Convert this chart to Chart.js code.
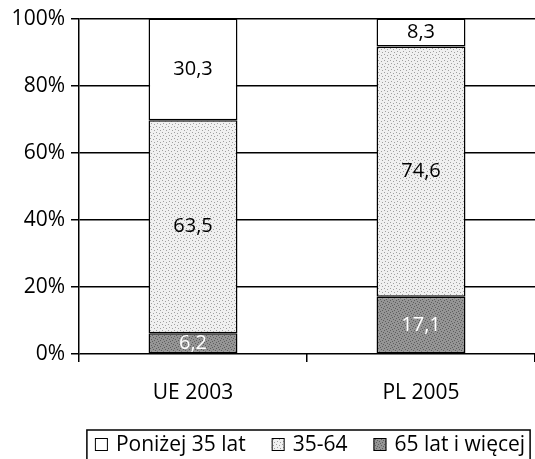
<!DOCTYPE html>
<html>
<head>
<meta charset="utf-8">
<script src="https://cdn.jsdelivr.net/npm/chart.js@4"></script>
<style>
    html, body { margin: 0; padding: 0; background: #fff; }
    #wrap { width: 535px; height: 459px; }
</style>
</head>
<body>
<div id="wrap"><canvas id="chart"></canvas></div>
<script>
const categories = ['UE 2003', 'PL 2005'];
const seriesNames = ['65 lat i więcej', '35-64', 'Poniżej 35 lat'];
const old65 = [6.2, 17.1];
const mid3564 = [63.5, 74.6];
const young35 = [30.3, 8.3];
const yTicks = [0, 20, 40, 60, 80, 100];

// dotted textures like the printed original
function makePattern(bg, dot, step) {
    const c = document.createElement('canvas');
    c.width = 6; c.height = 6;
    const g = c.getContext('2d');
    g.fillStyle = bg;
    g.fillRect(0, 0, 6, 6);
    g.fillStyle = dot;
    const pts = [[0, 0], [3, 1], [1, 3], [4, 4], [5, 2], [2, 5]];
    pts.slice(0, step).forEach(p => g.fillRect(p[0], p[1], 1, 1));
    return g.createPattern(c, 'repeat');
}
const ctx0 = document.getElementById('chart').getContext('2d');
const lightFill = makePattern('#f0f0f0', '#a0a0a0', 4);
const darkFill = makePattern('#959595', '#5e5e5e', 6);

const valueLabels = {
    id: 'valueLabels',
    afterDatasetsDraw(chart) {
        const ctx = chart.ctx;
        ctx.save();
        ctx.font = '20px "Open Sans"';
        ctx.textAlign = 'center';
        ctx.textBaseline = 'middle';
        chart.data.datasets.forEach((ds, i) => {
            chart.getDatasetMeta(i).data.forEach((bar, j) => {
                const y = (bar.y + bar.base) / 2;
                ctx.fillStyle = i === 0 ? '#fff' : '#000';
                ctx.fillText(String(ds.data[j]).replace('.', ','), bar.x, y);
            });
        });
        ctx.restore();
    }
};

// legend in a frame under the chart, items in reverse stacking order
const framedLegend = {
    id: 'framedLegend',
    afterDraw(chart) {
        const ctx = chart.ctx;
        const area = chart.chartArea;
        const boxW = 13, boxGap = 8, itemGap = 26;
        ctx.save();
        ctx.font = '21px "Open Sans"';
        ctx.textBaseline = 'middle';
        const items = chart.data.datasets.slice().reverse();
        const widths = items.map(ds => boxW + boxGap + ctx.measureText(ds.label).width);
        const total = widths.reduce((a, b) => a + b, 0) + itemGap * (items.length - 1);
        let x = (area.left + area.right) / 2 + 3 - total / 2;
        const cy = area.bottom + 91;
        ctx.strokeStyle = '#000';
        ctx.lineWidth = 1.5;
        ctx.strokeRect(x - 8, cy - 15, total + 13, 40);
        items.forEach((ds, i) => {
            ctx.fillStyle = ds.backgroundColor;
            ctx.fillRect(x, cy - 7, boxW, boxW);
            ctx.lineWidth = 1;
            ctx.strokeRect(x + 0.5, cy - 6.5, boxW - 1, boxW - 1);
            ctx.fillStyle = '#000';
            ctx.fillText(ds.label, x + boxW + boxGap, cy);
            x += widths[i] + itemGap;
        });
        ctx.restore();
    }
};

const barStyle = { borderColor: '#000', borderWidth: 1.5, borderSkipped: false, barPercentage: 0.39, categoryPercentage: 1 };

new Chart(ctx0, {
    type: 'bar',
    data: {
        labels: categories,
        datasets: [
            Object.assign({ label: seriesNames[0], data: old65, backgroundColor: darkFill }, barStyle),
            Object.assign({ label: seriesNames[1], data: mid3564, backgroundColor: lightFill }, barStyle),
            Object.assign({ label: seriesNames[2], data: young35, backgroundColor: '#fff' }, barStyle)
        ]
    },
    options: {
        responsive: true,
        maintainAspectRatio: false,
        animation: false,
        layout: { padding: { top: 8, right: 0, bottom: 55, left: 0 } },
        scales: {
            x: {
                stacked: true,
                afterFit: axis => { axis.height = 50; },
                grid: { display: true, drawOnChartArea: false, drawTicks: true, tickLength: 8, color: '#000', lineWidth: 1.5 },
                border: { display: false },
                ticks: { color: '#000', font: { family: 'Open Sans', size: 21 }, padding: 18 }
            },
            y: {
                stacked: true,
                min: 0,
                max: 100,
                afterFit: axis => { axis.width = 79; },
                afterBuildTicks: axis => { axis.ticks = yTicks.map(v => ({ value: v })); },
                grid: { color: '#000', lineWidth: 1.5, tickLength: 8 },
                border: { display: true, color: '#000', width: 1.5 },
                ticks: { color: '#000', font: { family: 'Open Sans', size: 21 }, padding: 6, callback: v => v + '%' }
            }
        },
        plugins: {
            legend: { display: false },
            tooltip: { enabled: false }
        }
    },
    plugins: [valueLabels, framedLegend]
});
</script>
</body>
</html>
